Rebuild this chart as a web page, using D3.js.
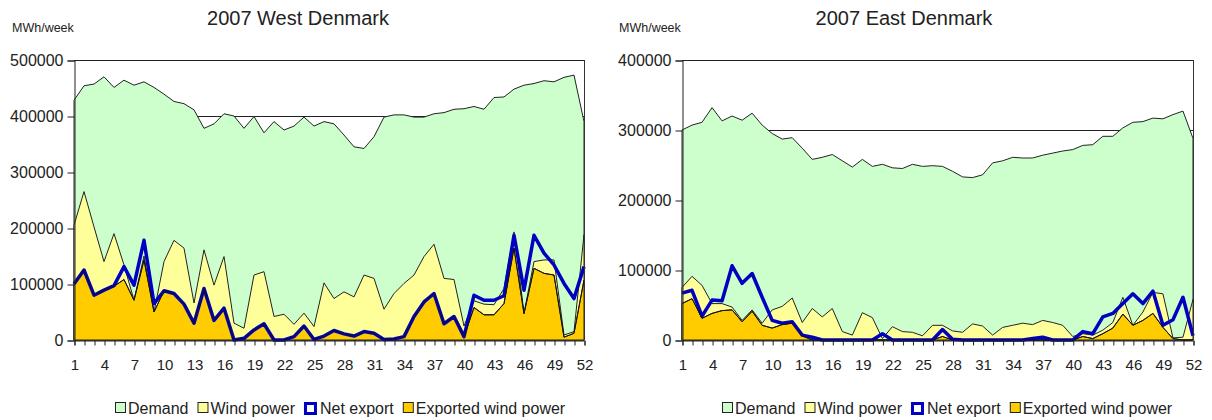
<!DOCTYPE html>
<html><head><meta charset="utf-8">
<script src="https://cdn.jsdelivr.net/npm/d3@7/dist/d3.min.js"></script>
<style>
body{margin:0;background:#fff;}
svg text{font-family:"Liberation Sans",Arial,sans-serif;fill:#222;}
</style></head>
<body><svg id="c" width="1212" height="420"></svg>
<script>
const weeks = d3.range(1, 53);
const xTickLabels = [1,4,7,10,13,16,19,22,25,28,31,34,37,40,43,46,49,52];
const legendLabels = ["Demand","Wind power","Net export","Exported wind power"];

const westDemand = [428000,454000,457000,470000,451000,464000,455000,461000,451000,439000,426000,422000,411000,378000,386000,404000,400000,378000,399000,370000,390000,375000,382000,398000,382000,390000,386000,366000,345000,342000,363000,398000,402000,402000,398000,398000,404000,406000,412000,413000,417000,412000,433000,434000,448000,455000,458000,463000,461000,469000,473000,390000];
const westWind = [205000,265000,202000,140000,190000,134000,71000,150000,50000,140000,178000,164000,66000,161000,98000,149000,30000,21000,116000,122000,42000,46000,28000,48000,24000,102000,74000,86000,77000,116000,110000,55000,83000,101000,116000,149000,171000,110000,108000,25000,70000,64000,63000,92000,193000,48000,140000,143000,143000,9000,15000,188000];
const westNetExport = [100000,125000,80000,89000,97000,131000,98000,178000,65000,88000,83000,64000,30000,92000,35000,57000,0,3000,18000,29000,0,0,6000,25000,1000,7000,17000,11000,7000,15000,12000,1000,2000,6000,42000,68000,83000,29000,42000,6000,80000,71000,71000,79000,187000,89000,187000,155000,134000,101000,74000,131000];
const westExportedWind = [100000,125000,80000,89000,96000,108000,71000,143000,50000,88000,83000,64000,30000,92000,35000,57000,0,3000,18000,29000,0,0,6000,25000,1000,7000,17000,11000,7000,15000,12000,1000,2000,6000,42000,68000,83000,29000,42000,6000,58000,45000,45000,65000,164000,47000,128000,119000,116000,5000,12000,107000];
const westTicks = [0,100000,200000,300000,400000,500000];

const eastDemand = [300000,307000,311000,332000,313000,320000,314000,324000,307000,295000,287000,289000,274000,258000,261000,265000,256000,247000,258000,248000,251000,246000,245000,251000,248000,249000,248000,241000,233000,232000,236000,253000,256000,261000,260000,260000,264000,267000,270000,272000,278000,279000,291000,291000,303000,311000,312000,317000,316000,322000,327000,288000];
const eastWind = [75000,91000,78000,52000,52000,47000,28000,43000,24000,43000,48000,60000,25000,45000,33000,45000,12000,7000,39000,32000,2000,19000,12000,11000,6000,21000,21000,13000,11000,23000,20000,7000,18000,21000,24000,22000,28000,25000,21000,5000,9000,7000,14000,25000,61000,21000,40000,68000,66000,3000,4000,58000];
const eastNetExport = [67000,71000,34000,57000,56000,106000,81000,95000,61000,28000,24000,26000,7000,4000,0,0,0,0,0,0,9000,0,0,0,0,0,15000,1000,0,0,0,0,0,0,0,2000,4000,0,0,0,12000,9000,33000,38000,52000,66000,52000,70000,21000,29000,61000,6000];
const eastExportedWind = [52000,59000,31000,38000,42000,43000,26000,41000,21000,17000,22000,24000,6000,0,0,0,0,0,0,0,0,0,0,0,0,0,5000,0,0,0,0,0,0,0,0,0,0,0,0,0,5000,2000,9000,17000,37000,21000,28000,38000,18000,2000,0,0];
const eastTicks = [0,100000,200000,300000,400000];

const colors = {demand:"#ccffcc", wind:"#ffff99", net:"#0000c0", exported:"#ffcc00"};
const svg = d3.select("#c");

function chart(cfg){
  const g = svg.append("g");
  const x = d3.scaleLinear().domain([1,52]).range([cfg.x0, cfg.x1]);
  const y = d3.scaleLinear().domain([0, cfg.max]).range([340, 60]);
  g.selectAll("line.grid").data(cfg.ticks.filter(t=>t>0)).join("line")
    .attr("x1", cfg.x0).attr("x2", cfg.x1)
    .attr("y1", d=>y(d)+0.5).attr("y2", d=>y(d)+0.5)
    .attr("stroke","#222").attr("stroke-width",1);
  const area = vals => d3.area().x((d,i)=>x(weeks[i])).y0(y(0)).y1(d=>y(d))(vals);
  const line = vals => d3.line().x((d,i)=>x(weeks[i])).y(d=>y(d))(vals);
  [[cfg.demand, colors.demand],[cfg.wind, colors.wind],[cfg.exported, colors.exported]].forEach(([v,c])=>{
    g.append("path").attr("d", area(v)).attr("fill", c).attr("stroke","#222").attr("stroke-width",1);
  });
  g.append("path").attr("d", line(cfg.net)).attr("fill","none").attr("stroke",colors.net)
    .attr("stroke-width",3.5).attr("stroke-linejoin","round");
  g.append("path").attr("d", line(cfg.exported)).attr("fill","none").attr("stroke","#111").attr("stroke-width",1);
  g.append("line").attr("x1",cfg.x1+0.5).attr("x2",cfg.x1+0.5).attr("y1",60).attr("y2",340).attr("stroke","#333");
  const yAxis = d3.axisLeft(y).tickValues(cfg.ticks).tickSize(7).tickFormat(d3.format("d"));
  const ya = g.append("g").attr("transform",`translate(${cfg.x0+0.5},0.5)`).call(yAxis);
  ya.select(".domain").attr("stroke","#222");
  ya.selectAll(".tick line").attr("stroke","#222");
  ya.selectAll(".tick text").attr("font-size","16px").attr("x",-11).attr("fill","#222");
  const xAxis = d3.axisBottom(x).tickValues(weeks).tickSize(5).tickFormat(d=>xTickLabels.includes(d)?d:"");
  const xa = g.append("g").attr("transform",`translate(0.5,${340.5})`).call(xAxis);
  xa.select(".domain").attr("stroke","#222");
  xa.selectAll(".tick line").attr("stroke","#222");
  xa.selectAll(".tick text").attr("font-size","15px").attr("dy","0").attr("y",29).attr("fill","#222");
  g.append("text").attr("x",cfg.tx).attr("y",25).attr("text-anchor","middle").attr("font-size","20px").text(cfg.title);
  g.append("text").attr("x",cfg.ux).attr("y",32).attr("font-size","12.5px").text("MWh/week");
  const lg = g.append("g");
  let lx = cfg.lx;
  const ly = 414;
  legendLabels.forEach((name,i)=>{
    if(i===2){
      lg.append("rect").attr("x",lx+1.5).attr("y",ly-10.5).attr("width",10).attr("height",10)
        .attr("fill","#fff").attr("stroke",colors.net).attr("stroke-width",3);
    } else {
      const c = [colors.demand, colors.wind, null, colors.exported][i];
      lg.append("rect").attr("x",lx+0.5).attr("y",ly-11.5).attr("width",10).attr("height",10)
        .attr("fill",c).attr("stroke","#222").attr("stroke-width",1);
    }
    const t = lg.append("text").attr("x", lx + (i===2?16:13)).attr("y",ly).attr("font-size","16px").text(name);
    lx += (i===2?16:13) + t.node().getComputedTextLength() + 9;
  });
}

chart({x0:74, x1:584, max:500000, ticks:westTicks, demand:westDemand, wind:westWind, net:westNetExport, exported:westExportedWind,
  title:"2007 West Denmark", tx:298, ux:12, lx:115});
chart({x0:682, x1:1193, max:400000, ticks:eastTicks, demand:eastDemand, wind:eastWind, net:eastNetExport, exported:eastExportedWind,
  title:"2007 East Denmark", tx:904, ux:619, lx:722});
</script></body></html>
